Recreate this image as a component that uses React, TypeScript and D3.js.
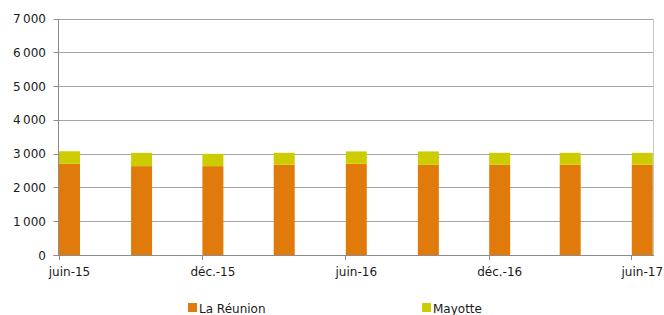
import { useEffect, useRef } from "react";
import * as d3 from "d3";

// quarters (first day of month of each quarter)
const quarters = [
  "2015-06-01", "2015-09-01", "2015-12-01", "2016-03-01", "2016-06-01",
  "2016-09-01", "2016-12-01", "2017-03-01", "2017-06-01",
];
const reunion = [2700, 2630, 2630, 2670, 2700, 2670, 2670, 2670, 2670];
const mayotte = [370, 395, 365, 355, 365, 395, 355, 355, 355];

const yTicks = [0, 1000, 2000, 3000, 4000, 5000, 6000, 7000];
const xTickDates = ["2015-06-01", "2015-12-01", "2016-06-01", "2016-12-01", "2017-06-01"];
const xTickLabels = ["juin-15", "déc.-15", "juin-16", "déc.-16", "juin-17"];

const seriesNames = ["La Réunion", "Mayotte"];
const COLORS = ["#E07B0B", "#CCCC00"];

const W = 664, H = 315;
const FONT = "'DejaVu Sans', Verdana, sans-serif";

export default function App() {
  const svgRef = useRef<SVGSVGElement>(null);

  useEffect(() => {
    const svg = d3.select(svgRef.current);
    svg.selectAll("*").remove();

    const parse = d3.utcParse("%Y-%m-%d");
    const left = 58.5, right = 654, top = 18.5, bottom = 255;

    const x = d3.scaleUtc()
      .domain([parse("2015-06-01")!, parse("2017-06-30")!])
      .range([left, right]);
    const y = d3.scaleLinear().domain([0, 7000]).range([bottom, top]);
    const barW = 21;

    // gridlines
    svg.append("g")
      .selectAll("line")
      .data(yTicks.filter(d => d > 0))
      .join("line")
      .attr("x1", left).attr("x2", right)
      .attr("y1", d => Math.round(y(d)) + 0.5).attr("y2", d => Math.round(y(d)) + 0.5)
      .attr("stroke", "#a6a6a6");

    // right frame
    svg.append("line")
      .attr("x1", right - 0.5).attr("x2", right - 0.5)
      .attr("y1", Math.round(y(7000))).attr("y2", bottom)
      .attr("stroke", "#c8c8c8");

    // stacked bars
    const rows = quarters.map((q, i) => ({ date: parse(q)!, r: reunion[i], m: mayotte[i] }));
    const stack = d3.stack<any>().keys(["r", "m"])(rows);
    stack.forEach((layer, li) => {
      svg.append("g")
        .selectAll("rect")
        .data(layer)
        .join("rect")
        .attr("x", d => x(d.data.date) + 0.5)
        .attr("width", barW)
        .attr("y", d => y(d[1]))
        .attr("height", d => y(d[0]) - y(d[1]))
        .attr("fill", COLORS[li]);
    });

    // y axis
    const yAxis = svg.append("g");
    yAxis.append("line")
      .attr("x1", left).attr("x2", left)
      .attr("y1", Math.round(y(7000))).attr("y2", bottom + 0.5)
      .attr("stroke", "#8c8c8c");
    yAxis.selectAll("line.tick")
      .data(yTicks)
      .join("line")
      .attr("class", "tick")
      .attr("x1", left - 5).attr("x2", left)
      .attr("y1", d => Math.round(y(d)) + 0.5).attr("y2", d => Math.round(y(d)) + 0.5)
      .attr("stroke", "#8c8c8c");
    yAxis.selectAll("text")
      .data(yTicks)
      .join("text")
      .attr("x", 46)
      .attr("y", d => y(d) + 4.5)
      .attr("text-anchor", "end")
      .attr("font-family", FONT)
      .attr("font-size", 12)
      .attr("fill", "#1a1a1a")
      .text(d => d3.format(",")(d).replace(",", "\u2009"));

    // x axis
    const xAxis = svg.append("g");
    xAxis.append("line")
      .attr("x1", left - 5).attr("x2", right)
      .attr("y1", bottom + 0.5).attr("y2", bottom + 0.5)
      .attr("stroke", "#8c8c8c");
    const ticks = xTickDates.map(d => parse(d)!);
    xAxis.selectAll("line.tick")
      .data(ticks)
      .join("line")
      .attr("class", "tick")
      .attr("x1", d => Math.round(x(d)) + 0.5).attr("x2", d => Math.round(x(d)) + 0.5)
      .attr("y1", bottom).attr("y2", bottom + 5)
      .attr("stroke", "#8c8c8c");
    xAxis.selectAll("text")
      .data(ticks)
      .join("text")
      .attr("x", d => x(d) + barW / 2 + 0.5)
      .attr("y", 276)
      .attr("text-anchor", "middle")
      .attr("font-family", FONT)
      .attr("font-size", 12)
      .attr("fill", "#1a1a1a")
      .text((d, i) => xTickLabels[i]);

    // legend
    const legendX = [188, 422];
    seriesNames.forEach((name, i) => {
      const g = svg.append("g").attr("transform", `translate(${legendX[i]},303)`);
      g.append("rect").attr("width", 9).attr("height", 9).attr("fill", COLORS[i]);
      g.append("text")
        .attr("x", 11).attr("y", 9.5)
        .attr("font-family", FONT)
        .attr("font-size", 12)
        .attr("fill", "#1a1a1a")
        .text(name);
    });
  }, []);

  return (
    <svg
      ref={svgRef}
      width={W}
      height={H}
      style={{ position: "absolute", left: 0, top: 0, background: "#fff" }}
    />
  );
}
